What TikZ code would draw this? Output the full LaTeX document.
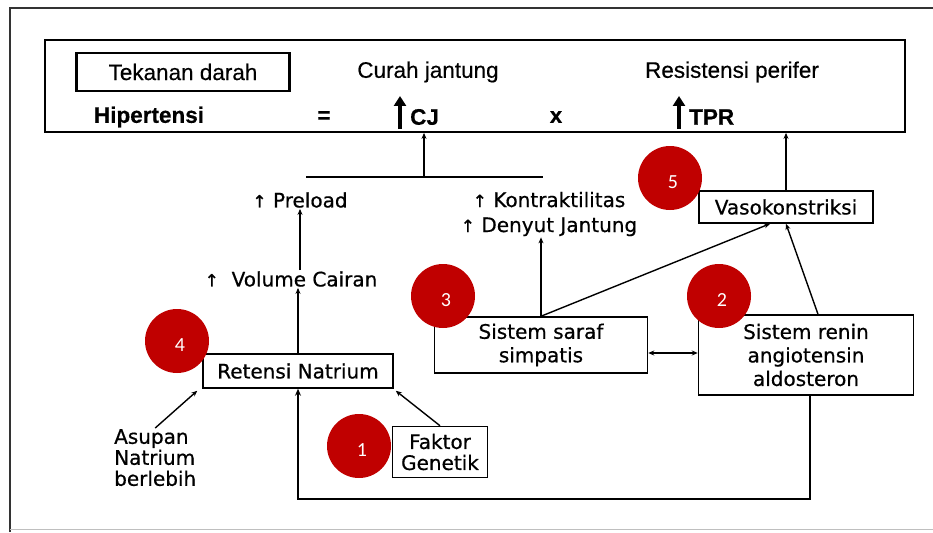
\documentclass[tikz,border=0pt]{standalone}
\usepackage{fontspec}
\setmainfont[FakeBold=0.6]{DejaVu Sans}
\newfontfamily\topf[FakeBold=0.4]{Liberation Sans}
\newfontfamily\numf{Carlito}
\usetikzlibrary{arrows.meta}
\definecolor{cred}{RGB}{192,0,0}
\begin{document}
\begin{tikzpicture}[x=1pt,y=-1pt,
 box/.style={draw, line width=1.5pt, inner sep=0pt, align=center, font=\fontsize{20}{23.5}\selectfont},
 lbl/.style={inner sep=1pt, align=center, font=\fontsize{20}{25}\selectfont},
 toptxt/.style={inner sep=0pt, font=\topf\fontsize{22.5}{26}\selectfont},
 topbold/.style={inner sep=0pt, font=\topf\bfseries\fontsize{22.5}{26}\selectfont},
 arr/.style={line width=1.4pt, -{Stealth[length=6pt,width=5pt]}},
 darr/.style={line width=1.4pt, {Stealth[length=6pt,width=5pt]}-{Stealth[length=6pt,width=5pt]}},
 fb/.style={line width=2.6pt, -{Stealth[length=7pt,width=6pt]}},
 bigarr/.style={line width=3.6pt, -{Triangle[length=10pt,width=12pt]}},
 badge/.style={circle, fill=cred, minimum size=64pt, inner sep=0pt},
 num/.style={text=white, font=\numf\fontsize{20}{20}\selectfont, inner sep=0pt},
 upa/.style={font=\fontsize{17}{17}\selectfont}]
\useasboundingbox (0,0) rectangle (933,532);
\fill[white] (0,0) rectangle (933,532);
\draw[line width=1.8pt, black!80] (10,532) -- (10,8) -- (933,8);
\draw[line width=1pt, black!25] (10,529) -- (933,529);

% top formula box
\node[draw, line width=1.8pt, minimum width=860pt, minimum height=92pt, inner sep=0pt] (topbox) at (475,86) {};
\node[draw, line width=2.2pt, minimum width=213pt, minimum height=38pt, toptxt] (td) at (183,72) {Tekanan darah};
\node[toptxt] (curah) at (428,72) {Curah jantung};
\node[toptxt] (resist) at (732,72) {Resistensi perifer};
\node[topbold] (hiper) at (149,117) {Hipertensi};
\node[topbold] (eq) at (324,117) {=};
\node[topbold, anchor=west] (cj) at (410,117) {CJ};
\node[topbold] (times) at (556,117) {x};
\node[topbold, anchor=west] (tpr) at (689,117) {TPR};
\coordinate (cjb) at (400,129);
\coordinate (cjt) at (400,96);
\coordinate (tprb) at (679,129);
\coordinate (tprt) at (679,96);
\draw[bigarr] (cjb) -- (cjt);
\draw[bigarr] (tprb) -- (tprt);

% labels and boxes
\node[lbl] (preload) at (300,200) {{\fontsize{17}{17}\selectfont ↑} Preload};
\node[lbl] (kontr) at (549,214) {{\fontsize{17}{17}\selectfont ↑} Kontraktilitas\\{\fontsize{17}{17}\selectfont ↑} Denyut Jantung};
\node[lbl] (volume) at (291,279) {{\fontsize{17}{17}\selectfont ↑}\ \ Volume Cairan};
\node[box, minimum width=174pt, minimum height=32pt] (vaso) at (786,207) {Vasokonstriksi};
\node[box, minimum width=190pt, minimum height=34pt] (retensi) at (298,371) {Retensi Natrium};
\node[box, minimum width=213pt, minimum height=56pt] (saraf) at (541,345) {Sistem saraf\\simpatis};
\node[box, minimum width=215pt, minimum height=80pt] (renin) at (806,355) {Sistem renin\\angiotensin\\aldosteron};
\node[box, minimum width=95pt, minimum height=51pt, font=\fontsize{20}{21}\selectfont] (faktor) at (440,452) {Faktor\\Genetik};
\node[lbl, align=left, anchor=north west, font=\fontsize{20}{21}\selectfont] (asupan) at (113,428) {Asupan\\Natrium\\berlebih};

% connectors
\coordinate (hl) at (306,177);
\coordinate (hr) at (543,177);
\coordinate (hm) at (424,177);
\draw[line width=1.4pt] (hl) -- (hr);
\draw[arr] (hm) -- (hm |- topbox.south);
\draw[arr] (vaso.north) -- (vaso.north |- topbox.south);
\draw[arr] (retensi.north) -- (retensi.north |- volume.south);
\draw[arr] (preload.south |- volume.north) -- (preload.south);
\draw[arr] (saraf.north) -- (saraf.north |- kontr.south);
\draw[arr] (saraf.north) -- ([xshift=-16pt]vaso.south);
\draw[arr] ([xshift=12pt]renin.north) -- (vaso.south);
\draw[darr] ([yshift=-8pt]saraf.east) -- ([yshift=2pt]renin.west);
\draw[arr] (asupan.north) -- ([xshift=-5pt,yshift=-2pt]retensi.south west);
\draw[arr] (faktor.north) -- ([xshift=2pt,yshift=-2pt]retensi.south east);
\coordinate (fbc) at (298,499);
\draw[fb] ([xshift=4pt]renin.south) |- (fbc) -- (retensi.south);

% numbered badges
\node[badge] (b5) at (670,178) {};
\node[num] (n5) at ([xshift=3pt,yshift=-4pt]b5.center) {5};
\node[badge] (b3) at (443,296) {};
\node[num] (n3) at ([xshift=3pt,yshift=-4pt]b3.center) {3};
\node[badge] (b2) at (719,296) {};
\node[num] (n2) at ([xshift=3pt,yshift=-4pt]b2.center) {2};
\node[badge] (b4) at (177,341) {};
\node[num] (n4) at ([xshift=3pt,yshift=-4pt]b4.center) {4};
\node[badge] (b1) at (359,446) {};
\node[num] (n1) at ([xshift=3pt,yshift=-4pt]b1.center) {1};
\end{tikzpicture}
\end{document}
